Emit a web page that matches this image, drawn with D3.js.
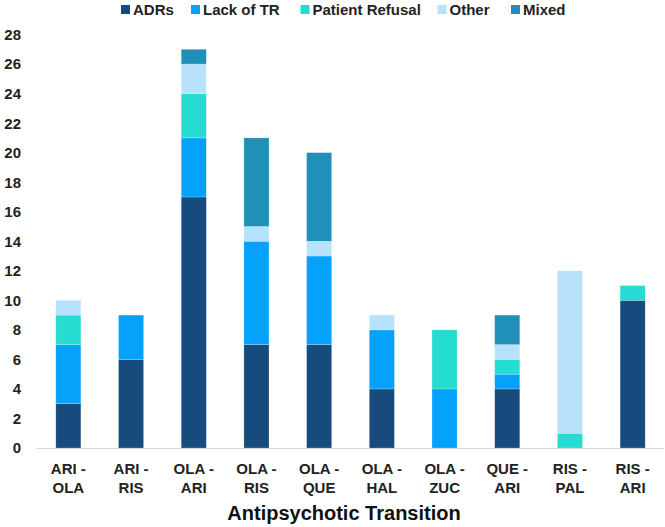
<!DOCTYPE html>
<html><head><meta charset="utf-8">
<script src="https://cdn.jsdelivr.net/npm/d3@7"></script>
<style>body{margin:0;background:#fff}svg{display:block;font-family:"Liberation Sans",Arial,sans-serif}</style>
</head><body><svg id="c" width="665" height="527"></svg>
<script>
const categories = [["ARI -","OLA"],["ARI -","RIS"],["OLA -","ARI"],["OLA -","RIS"],["OLA -","QUE"],["OLA -","HAL"],["OLA -","ZUC"],["QUE -","ARI"],["RIS -","PAL"],["RIS -","ARI"]];
const seriesNames = ["ADRs","Lack of TR","Patient Refusal","Other","Mixed"];
const adrs      = [3,6,17,7,7,4,0,4,0,10];
const lackOfTR  = [4,3,4,7,6,4,4,1,0,0];
const refusal   = [2,0,3,0,0,0,4,1,1,1];
const other     = [1,0,2,1,1,1,0,1,11,0];
const mixed     = [0,0,1,6,6,0,0,2,0,0];
const yTicks = [0,2,4,6,8,10,12,14,16,18,20,22,24,26,28];
const colors = ["#184b7d","#05a2fb","#26dcd2","#b8e1fb","#2190b9"];

const svg = d3.select("#c");
const keys = categories.map(c => c.join(" "));
const rows = keys.map((k,i)=>({key:k, ADRs:adrs[i], "Lack of TR":lackOfTR[i], "Patient Refusal":refusal[i], Other:other[i], Mixed:mixed[i]}));
const x = d3.scaleBand().domain(keys).range([37,664]).paddingInner(0.6).paddingOuter(0.3);
const y = d3.scaleLinear().domain([0,28]).range([448,34.5]);
const stack = d3.stack().keys(seriesNames)(rows);

// y labels
svg.append("g").selectAll("text").data(yTicks).join("text")
  .attr("x",21).attr("y",d=>y(d)).attr("dy","0.36em").attr("text-anchor","end")
  .attr("font-size",15).attr("font-weight","bold").attr("fill","#222").text(d=>d);

// bars
svg.append("g").selectAll("g").data(stack).join("g").attr("fill",(d,i)=>colors[i])
 .selectAll("rect").data(d=>d.filter(s=>s[1]-s[0]>0)).join("rect")
 .attr("x",d=>x(d.data.key)).attr("width",x.bandwidth())
 .attr("y",d=>y(d[1])).attr("height",d=>y(d[0])-y(d[1]))
 .attr("stroke","#ffffff").attr("stroke-opacity",0.35).attr("stroke-width",0.6);

// x axis line
svg.append("line").attr("x1",36).attr("x2",664).attr("y1",448.5).attr("y2",448.5).attr("stroke","#d9d9d9").attr("stroke-width",1.2);

// x labels
const xl = svg.append("g").selectAll("text").data(categories).join("text")
  .attr("text-anchor","middle").attr("font-size",15).attr("font-weight","bold").attr("fill","#222")
  .attr("transform",(d,i)=>`translate(${x(keys[i])+x.bandwidth()/2},0)`);
xl.append("tspan").attr("x",0).attr("y",473.5).text(d=>d[0]);
xl.append("tspan").attr("x",0).attr("y",492.5).text(d=>d[1]);

svg.append("text").attr("x",344).attr("y",520).attr("text-anchor","middle")
  .attr("font-size",20).attr("font-weight","bold").attr("fill","#111").text("Antipsychotic Transition");

// legend
const legX = [121,191,300.5,437.5,511];
const lg = svg.append("g").selectAll("g").data(seriesNames).join("g")
  .attr("transform",(d,i)=>`translate(${legX[i]},9.5)`);
lg.append("rect").attr("x",0).attr("y",-4.5).attr("width",9).attr("height",9).attr("fill",(d,i)=>colors[i]);
lg.append("text").attr("x",12).attr("y",0).attr("dy","0.36em").attr("font-size",15).attr("font-weight","bold").attr("fill","#222").text(d=>d);
</script></body></html>
